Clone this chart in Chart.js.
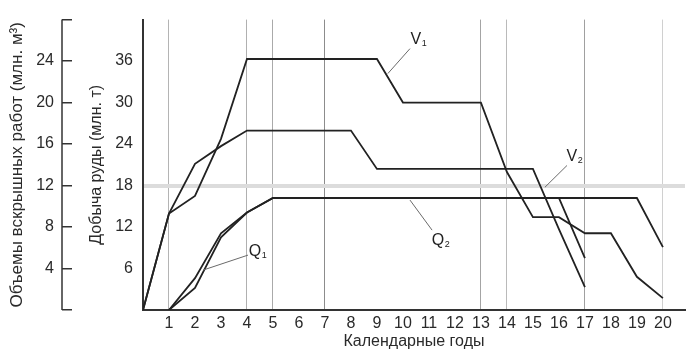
<!DOCTYPE html>
<html>
<head>
<meta charset="utf-8">
<script src="https://cdn.jsdelivr.net/npm/chart.js@4.4.1/dist/chart.umd.min.js"></script>
<style>
  html, body { margin: 0; padding: 0; background: #ffffff; }
  #wrap { width: 687px; height: 353px; }
</style>
</head>
<body>
<div id="wrap"><canvas id="c" width="687" height="353"></canvas></div>
<script>
// ---- data ----
const years = [0,1,2,3,4,5,6,7,8,9,10,11,12,13,14,15,16,17,18,19,20];
const xTickLabels = ['1','2','3','4','5','6','7','8','9','10','11','12','13','14','15','16','17','18','19','20'];
// stripping volumes, million m3 (outer left axis)
const v1 = [0, 9.3, 11.0, 16.5, 24.2, 24.2, 24.2, 24.2, 24.2, 24.2, 20.0, 20.0, 20.0, 20.0, 13.3, 8.95, 8.95, 7.4, 7.4, 3.2, 1.15];
const v2 = [0, 9.3, 14.1, 15.8, 17.3, 17.3, 17.3, 17.3, 17.3, 13.6, 13.6, 13.6, 13.6, 13.6, 13.6, 13.6, 7.8, 2.2, null, null, null];
// ore output, million t (inner left axis)
const q1 = [null, 0, 3.2, 10.5, 14.1, 16.2, 16.2, 16.2, 16.2, 16.2, 16.2, 16.2, 16.2, 16.2, 16.2, 16.2, 16.2, 7.5, null, null, null];
const q2 = [null, 0, 4.6, 11.1, 14.1, 16.2, 16.2, 16.2, 16.2, 16.2, 16.2, 16.2, 16.2, 16.2, 16.2, 16.2, 16.2, 16.2, 16.2, 16.2, 9.1];
const oreTicks = [6, 12, 18, 24, 30, 36];
const volTicks = [4, 8, 12, 16, 20, 24];
const markedYears = [1, 4, 5, 7, 13, 14, 17, 20];
const refOre = 18;

// curve labels (position in year / ore-axis units)
const notes = [
  { main: 'V', sub: '1', at: [10.5, 39.1], line: [[10.27, 37.8], [9.42, 34.2]] },
  { main: 'V', sub: '2', at: [16.5, 22.2], line: [[16.31, 20.9], [15.46, 17.75]] },
  { main: 'Q', sub: '2', at: [11.35, 10.1], line: [[11.12, 11.55], [10.27, 15.9]] },
  { main: 'Q', sub: '1', at: [4.31, 8.5], line: [[4.04, 7.94], [2.31, 5.77]] }
];

const toPts = arr => years.map((x, i) => ({ x: x, y: arr[i] })).filter(p => p.y !== null);

const FONT = "'Liberation Sans', Arial, Helvetica, sans-serif";
const INK = '#222222';
const gridShade = { 1: '#b4b4b4', 4: '#b0b0b0', 5: '#aaaaaa', 7: '#8c8c8c', 13: '#a4a4a4', 14: '#bababa', 17: '#a0a0a0', 20: '#d0d0d0' };

const lineStyle = { borderColor: INK, borderWidth: 1.8, pointRadius: 0, tension: 0, fill: false, spanGaps: false };

const bracketPlugin = {
  id: 'bracket',
  afterDraw(chart) {
    const ctx = chart.ctx;
    const s = chart.scales.y2;
    const x = s.right - 10;
    ctx.save();
    ctx.strokeStyle = '#333';
    ctx.lineWidth = 1.5;
    ctx.beginPath();
    ctx.moveTo(x, s.getPixelForValue(28));
    ctx.lineTo(x, s.getPixelForValue(0));
    ctx.stroke();
    // curve labels
    const xs = chart.scales.x, ys = chart.scales.y;
    notes.forEach(n => {
      ctx.strokeStyle = '#6a6a6a';
      ctx.lineWidth = 1;
      ctx.beginPath();
      ctx.moveTo(xs.getPixelForValue(n.line[0][0]), ys.getPixelForValue(n.line[0][1]));
      ctx.lineTo(xs.getPixelForValue(n.line[1][0]), ys.getPixelForValue(n.line[1][1]));
      ctx.stroke();
      const px = xs.getPixelForValue(n.at[0]);
      const py = ys.getPixelForValue(n.at[1]);
      ctx.fillStyle = '#222';
      ctx.font = '16px ' + FONT;
      ctx.textAlign = 'center';
      ctx.textBaseline = 'middle';
      ctx.fillText(n.main, px, py);
      const w = ctx.measureText(n.main).width;
      ctx.font = '9px ' + FONT;
      ctx.textAlign = 'left';
      ctx.fillText(n.sub, px + w / 2 + 0.5, py + 4);
    });
    ctx.restore();
  }
};

new Chart(document.getElementById('c'), {
  type: 'line',
  data: {
    datasets: [
      Object.assign({ label: 'V1', data: toPts(v1), yAxisID: 'y2' }, lineStyle),
      Object.assign({ label: 'V2', data: toPts(v2), yAxisID: 'y2' }, lineStyle),
      Object.assign({ label: 'Q1', data: toPts(q1), yAxisID: 'y' }, lineStyle),
      Object.assign({ label: 'Q2', data: toPts(q2), yAxisID: 'y' }, lineStyle)
    ]
  },
  options: {
    responsive: false,
    animation: false,
    devicePixelRatio: 1,
    layout: { padding: { top: 19, right: 2, bottom: 0, left: 0 } },
    plugins: { legend: { display: false }, tooltip: { enabled: false } },
    scales: {
      x: {
        type: 'linear',
        min: 0,
        max: 20.85,
        afterBuildTicks: s => { s.ticks = years.slice(1).map(v => ({ value: v })); },
        afterFit: s => { s.height = 43; },
        ticks: {
          color: '#2a2a2a',
          font: { family: FONT, size: 16 },
          padding: 4,
          maxRotation: 0,
          autoSkip: false,
          callback: (v, i) => xTickLabels[i]
        },
        grid: {
          drawTicks: false,
          color: c => (c.tick && gridShade[c.tick.value]) ? gridShade[c.tick.value] : 'rgba(0,0,0,0)',
          lineWidth: 1
        },
        border: { display: true, color: '#333', width: 2 },
        title: {
          display: true,
          text: 'Календарные годы',
          color: '#2a2a2a',
          font: { family: FONT, size: 16 },
          padding: { top: 0, bottom: 2 }
        }
      },
      y: {
        position: 'left',
        weight: 0,
        min: 0,
        max: 42,
        afterBuildTicks: s => { s.ticks = [0].concat(oreTicks, [42]).map(v => ({ value: v })); },
        afterFit: s => { s.width = 71; },
        ticks: {
          color: '#2a2a2a',
          font: { family: FONT, size: 16 },
          padding: 10,
          callback: v => oreTicks.includes(v) ? String(v) : ''
        },
        grid: {
          drawTicks: false,
          color: c => (c.tick && c.tick.value === refOre) ? '#dcdcdc' : 'rgba(0,0,0,0)',
          lineWidth: c => (c.tick && c.tick.value === refOre) ? 4 : 0
        },
        border: { display: true, color: '#333', width: 2 },
        title: {
          display: true,
          text: 'Добыча руды (млн. т)',
          color: '#2a2a2a',
          font: { family: FONT, size: 16 },
          padding: { top: 15, bottom: 0 }
        }
      },
      y2: {
        position: 'left',
        weight: 1,
        min: 0,
        max: 28,
        afterBuildTicks: s => { s.ticks = [0].concat(volTicks, [28]).map(v => ({ value: v })); },
        afterFit: s => { s.width = 72; },
        ticks: {
          color: '#2a2a2a',
          font: { family: FONT, size: 16 },
          padding: 8,
          callback: v => volTicks.includes(v) ? String(v) : ''
        },
        grid: {
          drawOnChartArea: false,
          drawTicks: true,
          tickLength: 10,
          color: '#333',
          lineWidth: 1.5
        },
        border: { display: false },
        title: {
          display: true,
          text: 'Объемы вскрышных работ (млн. м³)',
          color: '#2a2a2a',
          font: { family: FONT, size: 17 },
          padding: { top: 7, bottom: 0 }
        }
      }
    }
  },
  plugins: [bracketPlugin]
});
</script>
</body>
</html>
